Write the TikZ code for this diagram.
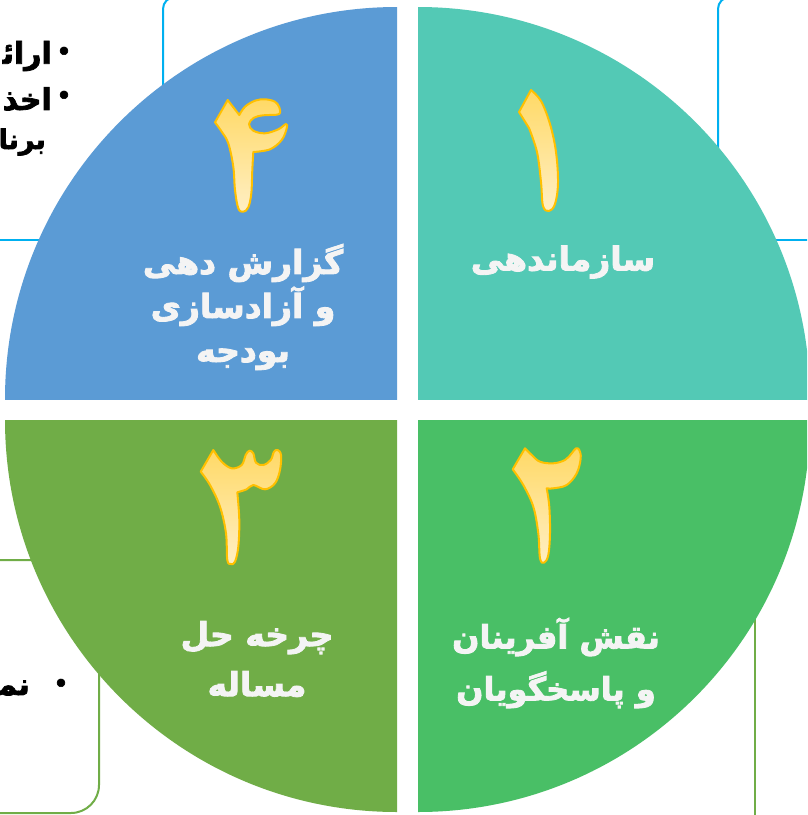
\documentclass[tikz,border=0pt]{standalone}
\usepackage{fontspec}
\TeXXeTstate=1
\newfontfamily\fa[Script=Arabic, BoldFeatures={FakeBold=2.6}]{DejaVu Sans}
\newcommand{\rl}[1]{\beginR #1\endR}
\definecolor{qteal}{HTML}{53C9B5}
\definecolor{qblue}{HTML}{5B9BD5}
\definecolor{qolive}{HTML}{70AD47}
\definecolor{qgreen}{HTML}{49BF66}
\definecolor{boxblue}{HTML}{00B0F0}
\definecolor{boxgreen}{HTML}{70AD47}
\definecolor{digitline}{HTML}{FFC000}
\definecolor{digittop}{HTML}{FFD966}
\definecolor{digitbot}{HTML}{FFEFC4}
\definecolor{labwhite}{HTML}{F4F4F4}
\tikzset{
  digit/.style={draw=digitline, line width=2pt, line join=round, top color=digittop, bottom color=digitbot},
  lab/.style={text=labwhite, font=\fa\bfseries\fontsize{33}{44}\selectfont, align=center, inner sep=0pt},
  bul/.style={text=black, font=\fa\bfseries\fontsize{30}{44}\selectfont, inner sep=0pt},
  dot/.style={text=black, font=\fa\bfseries\fontsize{22}{24}\selectfont, inner sep=0pt},
  edge/.style={line width=2pt}
}
\begin{document}
\begin{tikzpicture}[x=1pt,y=-1pt]
\useasboundingbox (0,0) rectangle (807,815);
\clip (0,0) rectangle (807,815);
\fill[white] (0,0) rectangle (807,815);
% background box edges
\draw[edge, boxblue] (-5,240) -- (120,240);
\draw[edge, boxblue, rounded corners=12] (163,200) -- (163,-3) -- (260,-3);
\draw[edge, boxblue, rounded corners=12] (718,300) -- (718,-3) -- (850,-3);
\draw[edge, boxblue] (700,240) -- (815,240);
\draw[edge, boxgreen, rounded corners=28] (-5,560) -- (99,560) -- (99,813) -- (-5,813);
\draw[edge, boxgreen] (755,560) -- (755,820);
% bullet texts (only the visible parts)
\node[dot] (b1) at (64,53) {•};
\node[bul, anchor=east] (t1) at (52,56) {\rl{ارائ^^^^200d}};
\node[dot] (b2) at (64,97) {•};
\node[bul, anchor=east] (t2) at (52,99) {\rl{اخذ}};
\node[bul, anchor=east, font=\fa\bfseries\fontsize{27}{40}\selectfont] (t3) at (46,142) {\rl{برنا}};
\node[dot] (b4) at (61,685) {•};
\node[bul, anchor=east] (t4) at (30,688) {\rl{نم^^^^200d}};
% quadrants
\begin{scope}\clip (397,399) rectangle (0,0);
\fill[qblue] (397,399) circle[radius=392];\end{scope}
\begin{scope}\clip (418,399) rectangle (807,0);
\fill[qteal] (418,399) circle[radius=392];\end{scope}
\begin{scope}\clip (397,420) rectangle (0,815);
\fill[qolive] (397,420) circle[radius=392];\end{scope}
\begin{scope}\clip (418,420) rectangle (807,815);
\fill[qgreen] (418,420) circle[radius=392];\end{scope}
% digit 1
\path[digit] (519,112) -- (531,90) -- plot[smooth, tension=0.6] coordinates {(531,90) (541,101) (550,124) (556,152) (558,183) (555,204) (549,211) (543,206) (541,182) (537,152) (529,128)} -- cycle;
% digit 2
\path[digit] (512.7,469.3) -- (525,448.3) -- plot[smooth, tension=0.6] coordinates {(525,448.3) (531.7,455) (540,461.7) (553.3,463.3) (565,460) (571.7,453.3) (576,448.3) (579.3,450) (580.7,458.3) (576.7,473.3) (566.7,485) (553.3,488.3) (546.7,488.3)} -- plot[smooth, tension=0.6] coordinates {(546.7,488.3) (549.3,506.7) (550,533.3) (548.3,555) (544,562.7) (540,558.3) (538.3,533.3) (533.3,506.7) (523.3,485) (512.7,469.3)} -- cycle;
% digit 3
\path[digit] (200.7,471.7) -- (213.3,450) -- plot[smooth, tension=0.6] coordinates {(213.3,450) (221.7,461.7) (231.7,468.3) (241.7,465) (245.7,455) (249.3,450.7) (253.3,453.3) (256,462.7) (263.3,465) (270.7,460) (274,451.7) (277.7,450) (281,455) (280,470) (275,483.3) (265,489.3) (253.3,485) (246.7,489.3) (237.3,492.3)} -- plot[smooth, tension=0.6] coordinates {(237.3,492.3) (239.3,520) (238.3,546.7) (235,561.7) (231,564) (227.3,560) (226,533.3) (220,506.7) (210,485) (200.7,471.7)} -- cycle;
% digit 4
\path[digit] (215,122.3) -- (227.7,100) -- (239.3,115) -- plot[smooth, tension=0.6] coordinates {(239.3,115) (245,106.7) (255,100.7) (265,99.3) (275,101.7) (279.3,107.3) (280,112.7) (276.7,114.7) (263.3,115.3) (254,117.7) (249,124) (253.3,130.7) (265,133.3) (278.3,129.3) (286,124) (286.7,128.3) (281.7,140) (270,149.3) (253.3,152)} -- plot[smooth, tension=0.6] coordinates {(253.3,152) (252.3,170) (251.3,193.3) (248.3,207.3) (243.3,211.7) (238.3,208.3) (235,190) (233.3,166.7) (228.3,143.3) (221.7,131.7) (215,122.3)} -- cycle;
% labels
\node[lab] (l1) at (563,262) {\rl{سازماندهی}};
\node[lab] (l4) at (243,307) {\rl{گزارش دهی}\\ \rl{و آزادسازی}\\ \rl{بودجه}};
\node[lab, font=\fa\bfseries\fontsize{33}{50}\selectfont] (l3) at (257,659) {\rl{چرخه حل}\\ \rl{مساله}};
\node[lab, font=\fa\bfseries\fontsize{32}{52}\selectfont] (l2) at (556,663) {\rl{نقش آفرینان}\\ \rl{و پاسخگویان}};
\end{tikzpicture}
\end{document}
